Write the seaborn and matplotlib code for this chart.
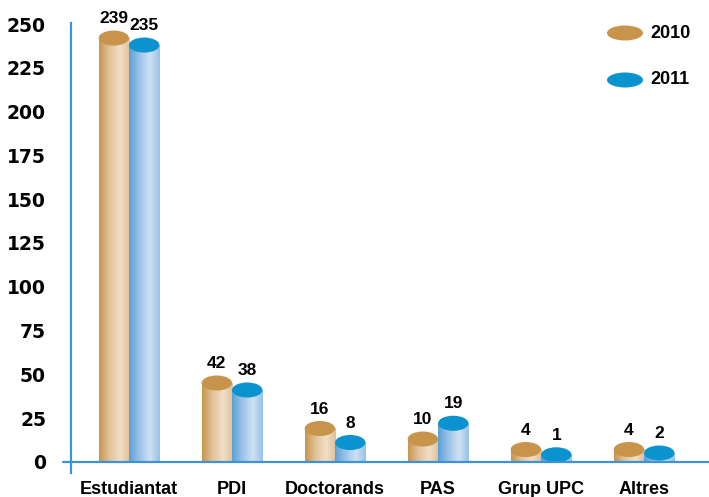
import numpy as np
import pandas as pd
import matplotlib
matplotlib.use("Agg")
import matplotlib.pyplot as plt
import seaborn as sns
from matplotlib.colors import LinearSegmentedColormap
from matplotlib.patches import Ellipse

categories = ["Estudiantat", "PDI", "Doctorands", "PAS", "Grup UPC", "Altres"]
years = ["2010", "2011"]
values_2010 = [239, 42, 16, 10, 4, 4]
values_2011 = [235, 38, 8, 19, 1, 2]
yticks = [0, 25, 50, 75, 100, 125, 150, 175, 200, 225, 250]

top_colors = {"2010": "#c8944c", "2011": "#0a93cf"}
body_colors = {
    "2010": ["#c8944c", "#e2c39c", "#f1dfc6", "#dcc09c"],
    "2011": ["#5b9fd6", "#9ec4e9", "#cfe1f3", "#97c1e6"],
}
axis_color = "#3d94d2"

df = pd.DataFrame({
    "categoria": categories * 2,
    "any": [years[0]] * len(categories) + [years[1]] * len(categories),
    "valor": values_2010 + values_2011,
})

sns.set_style("white")
plt.rcParams["font.family"] = ["DejaVu Sans"]
plt.rcParams.update({"text.color": "black", "xtick.color": "black", "ytick.color": "black"})

fig = plt.figure(figsize=(7.09, 4.97), dpi=100)
ax = fig.add_axes([71 / 709, 1 - 473 / 497, (709 - 71) / 709, (473 - 23) / 497])

sns.barplot(data=df, x="categoria", y="valor", hue="any", palette=top_colors,
            width=0.59, ax=ax, legend=False, dodge=True)

lift = 3.0
cap_h = 8.6
grad = np.linspace(0, 1, 256).reshape(1, -1)
cmaps = {y: LinearSegmentedColormap.from_list("c" + y, list(zip([0, 0.35, 0.68, 1], body_colors[y])))
         for y in years}

for i, patch in enumerate(ax.patches[:2 * len(categories)]):
    year = years[i // len(categories)]
    x0 = patch.get_x()
    w = patch.get_width()
    h = patch.get_height()
    patch.set_visible(False)
    top = h + lift
    ax.imshow(grad, extent=[x0, x0 + w, 0, top], aspect="auto", cmap=cmaps[year],
              zorder=2, interpolation="bilinear")
    ax.add_patch(Ellipse((x0 + w / 2, top), w, cap_h, facecolor=top_colors[year],
                         edgecolor="none", zorder=3))
    ax.text(x0 + w / 2, top + cap_h / 2 + 2.5, f"{h:.0f}", ha="center", va="bottom",
            fontsize=12.5, fontweight="bold", family="Liberation Sans", zorder=4)

ax.set_xlim(-0.563, 5.63)
ax.set_ylim(-6.4, 250.6)
ax.set_yticks(yticks)
ax.set_yticklabels([str(t) for t in yticks], fontsize=13.5, fontweight="bold")
ax.set_xticks(range(len(categories)))
ax.set_xticklabels(categories, fontsize=13, fontweight="bold", family="Liberation Sans")
ax.tick_params(axis="y", length=0, pad=18)
ax.tick_params(axis="x", length=0, pad=6)
ax.set_xlabel("")
ax.set_ylabel("")

for side in ["top", "right", "bottom"]:
    ax.spines[side].set_visible(False)
ax.spines["left"].set_color(axis_color)
ax.spines["left"].set_linewidth(1.6)
ax.plot([-0.64, 5.63], [0, 0], color=axis_color, lw=1.6, clip_on=False, zorder=5)

# legend with ellipse markers
for j, year in enumerate(years):
    cy = (497 - 33 - 47 * j) / 100
    fig.patches.append(Ellipse((6.25, cy), 0.36, 0.15, transform=fig.dpi_scale_trans,
                               facecolor=top_colors[year], edgecolor="none"))
    fig.text(6.5, cy, year, transform=fig.dpi_scale_trans, va="center", ha="left",
             fontsize=13, fontweight="bold", family="Liberation Sans")

fig.savefig("out.png", dpi=100)
